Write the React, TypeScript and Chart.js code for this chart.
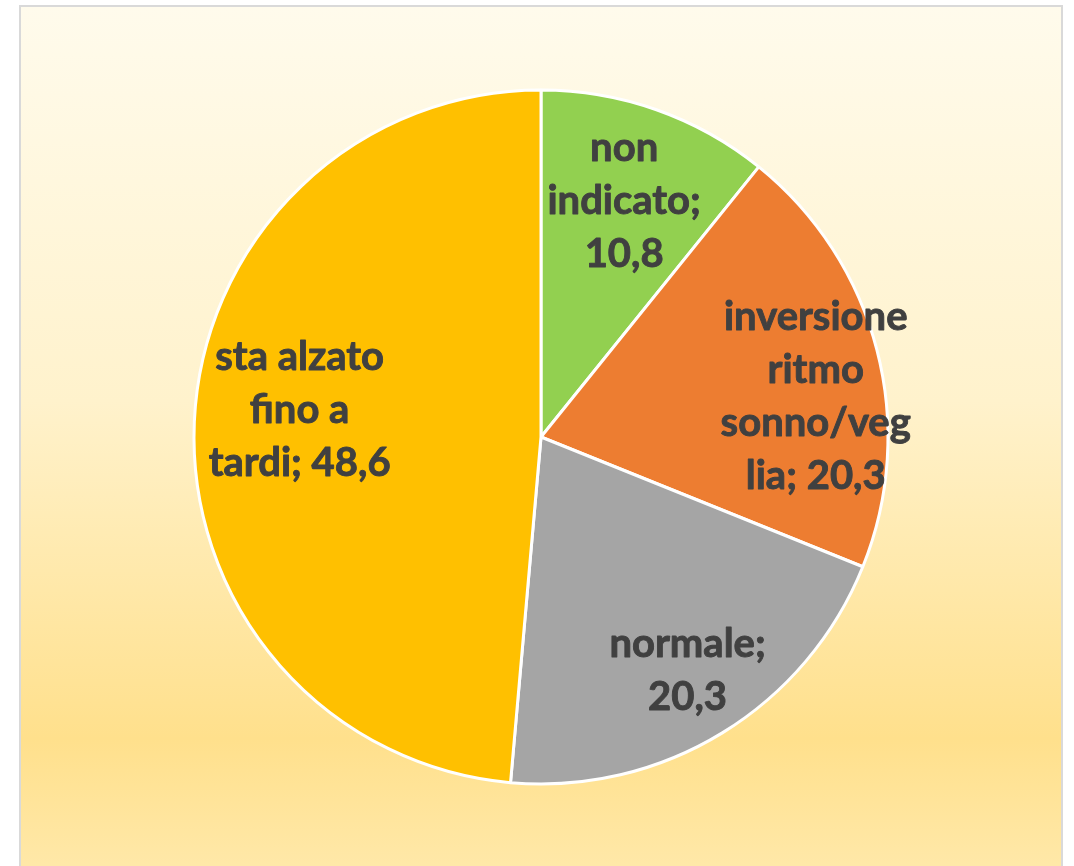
import React, { useEffect, useRef } from "react";
import { Chart, registerables } from "chart.js";

Chart.register(...registerables);

const categories = ["non indicato", "inversione ritmo sonno/veglia", "normale", "sta alzato fino a tardi"];
const values = [10.8, 20.3, 20.3, 48.6];
const sliceColors = ["#92D050", "#ED7D31", "#A5A5A5", "#FFC000"];

// label placement (style, not data)
const labelMaxWidth = [170, 192, 180, 190];
const labelRadiusFrac = [0.72, 0.8, 0.795, 0.7];
const labelAngleOffsetDeg = [0, 6.3, -0.6, 3.9];

const FONT = "bold 40px Lato";
const LINE_H = 53;

function fmt(v: number) {
  return v.toFixed(1).replace(".", ",");
}

function wrap(ctx: CanvasRenderingContext2D, text: string, maxW: number): string[] {
  const words = text.split(" ");
  const lines: string[] = [];
  let cur = "";
  for (const w of words) {
    const test = cur ? cur + " " + w : w;
    if (ctx.measureText(test).width <= maxW) {
      cur = test;
      continue;
    }
    if (cur) lines.push(cur);
    cur = "";
    let word = w;
    while (ctx.measureText(word).width > maxW) {
      let i = word.length;
      while (i > 1 && ctx.measureText(word.slice(0, i)).width > maxW) i--;
      lines.push(word.slice(0, i));
      word = word.slice(i);
    }
    cur = word;
  }
  if (cur) lines.push(cur);
  return lines;
}

const labelPlugin = {
  id: "sliceLabels",
  afterDatasetsDraw(chart: any) {
    const ctx = chart.ctx as CanvasRenderingContext2D;
    const meta = chart.getDatasetMeta(0);
    ctx.save();
    ctx.font = FONT;
    ctx.fillStyle = "#404040";
    ctx.strokeStyle = "#404040";
    ctx.lineWidth = 0.9;
    ctx.lineJoin = "round";
    ctx.textAlign = "center";
    ctx.textBaseline = "middle";
    meta.data.forEach((arc: any, i: number) => {
      const { x, y, startAngle, endAngle, outerRadius } = arc.getProps(
        ["x", "y", "startAngle", "endAngle", "outerRadius"],
        true
      );
      const mid = (startAngle + endAngle) / 2 + (labelAngleOffsetDeg[i] * Math.PI) / 180;
      const r = outerRadius * labelRadiusFrac[i];
      const cx = x + Math.cos(mid) * r;
      const cy = y + Math.sin(mid) * r;
      const text = `${categories[i]}; ${fmt(values[i])}`;
      const lines = wrap(ctx, text, labelMaxWidth[i]);
      const top = cy - ((lines.length - 1) * LINE_H) / 2;
      lines.forEach((ln, k) => {
        ctx.fillText(ln, cx, top + k * LINE_H);
        ctx.strokeText(ln, cx, top + k * LINE_H);
      });
    });
    ctx.restore();
  },
};

export default function App() {
  const ref = useRef<HTMLCanvasElement | null>(null);
  useEffect(() => {
    if (!ref.current) return;
    const chart = new Chart(ref.current, {
      type: "pie",
      data: {
        labels: categories,
        datasets: [
          {
            data: values,
            backgroundColor: sliceColors,
            borderColor: "#FFFFFF",
            borderWidth: 3,
          },
        ],
      },
      options: {
        responsive: false,
        animation: false,
        radius: 347,
        layout: { padding: { left: 8, top: 8, right: 0, bottom: 0 } },
        plugins: {
          legend: { display: false },
          tooltip: { enabled: false },
        },
      } as any,
      plugins: [labelPlugin],
    });
    return () => chart.destroy();
  }, []);

  return (
    <div style={{ position: "fixed", left: 0, top: 0, width: 1074, height: 866, overflow: "hidden", background: "#fff" }}>
      <div
        style={{
          position: "absolute",
          left: 19,
          top: 5,
          width: 1044,
          height: 880,
          boxSizing: "border-box",
          border: "2px solid #D9D9D9",
          background:
            "linear-gradient(to bottom, #FFFBEC 0%, #FFF2CC 45%, #FFE08C 83.5%, #FFE8A8 98%)",
        }}
      />
      <canvas ref={ref} width={1074} height={866} style={{ position: "absolute", left: 0, top: 0 }} />
    </div>
  );
}
